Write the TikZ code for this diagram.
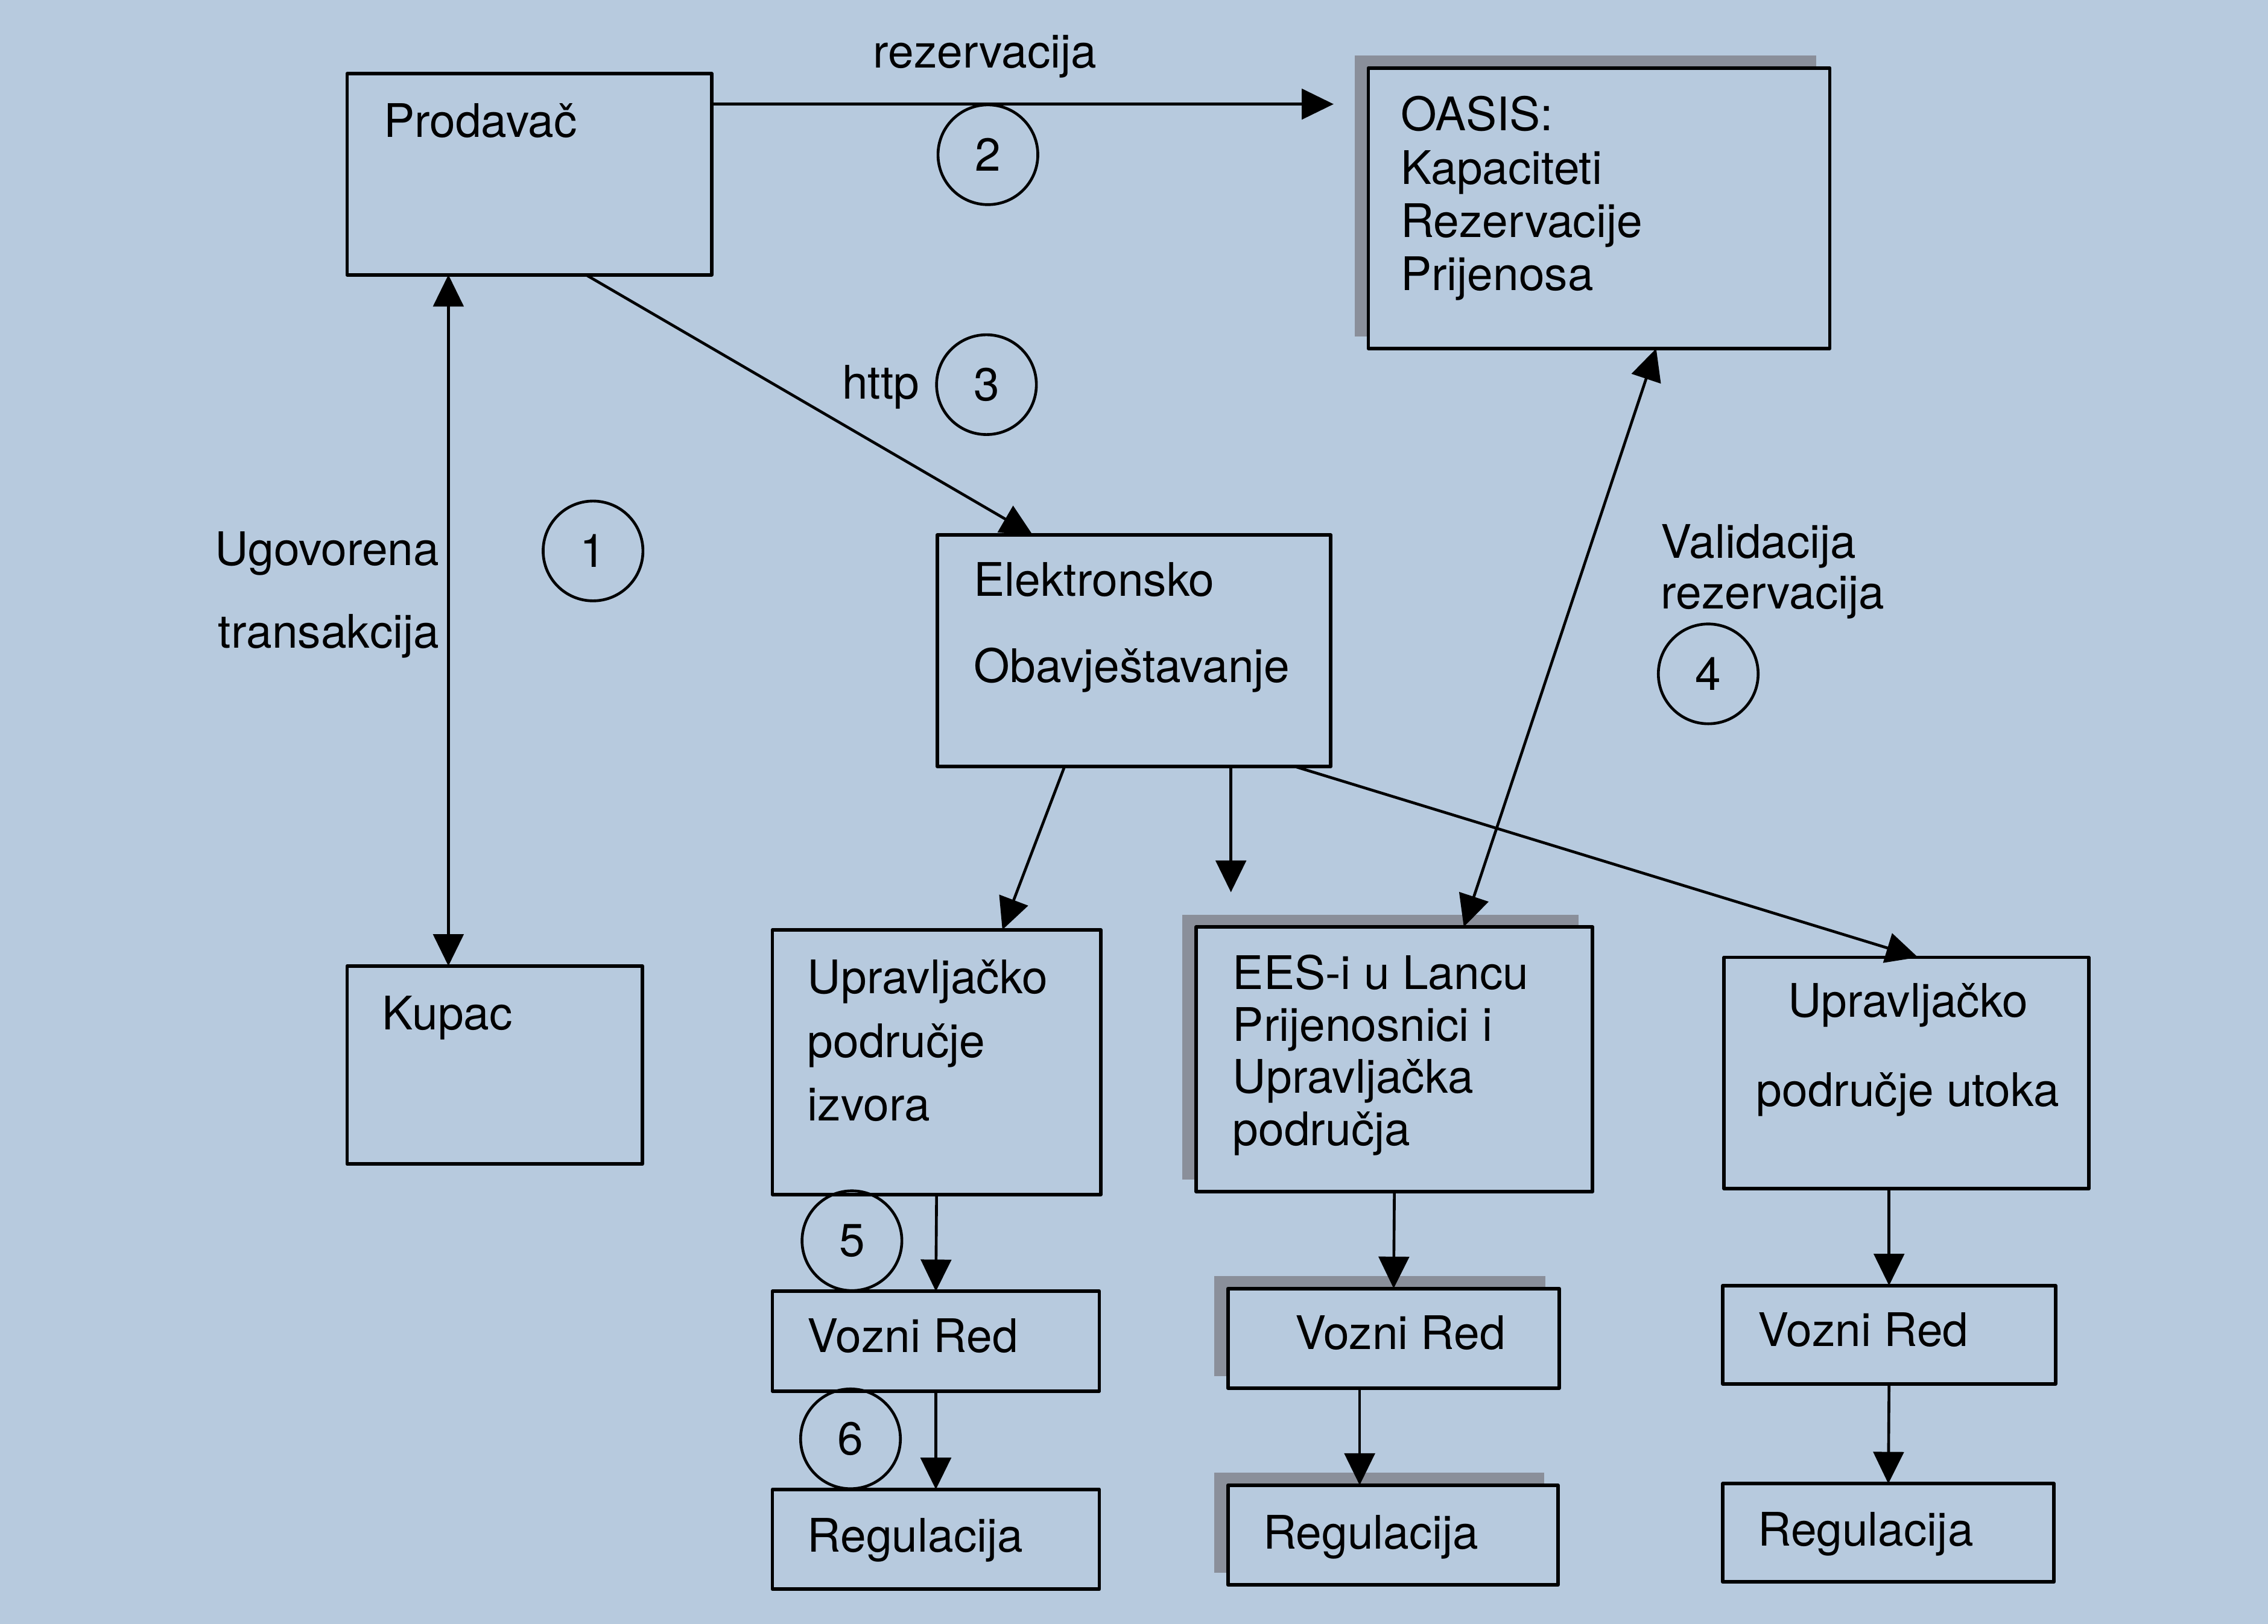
\documentclass[tikz,border=0pt]{standalone}
\usepackage{fontspec}
\setmainfont{TeX Gyre Heros}
\usetikzlibrary{arrows.meta,shadows}
\definecolor{pagebg}{RGB}{183,202,222}
\definecolor{shadowgray}{RGB}{138,143,154}
\begin{document}
\begin{tikzpicture}[x=0.2mm,y=-0.2mm,line join=round,
  every node/.style={font=\fontsize{18.2}{22}\selectfont},
  blok/.style={draw,line width=1.4pt,fill=pagebg,inner sep=0pt,outer sep=0pt},
  sjena/.style={drop shadow={shadow xshift=-1.9mm,shadow yshift=1.7mm,fill=shadowgray,opacity=1}},
  txt/.style={anchor=base west,inner sep=0pt},
  broj/.style={draw,circle,line width=1.1pt,minimum size=13.8mm,inner sep=0pt},
  veza/.style={line width=1.1pt,-{Triangle[length=4.4mm,width=4.2mm]}},
  dvoveza/.style={line width=1.1pt,{Triangle[length=4.4mm,width=4.2mm]}-{Triangle[length=4.4mm,width=4.2mm]}}]
\fill[pagebg] (0,0) rectangle (1568,1123);
\useasboundingbox (0,0) rectangle (1568,1123);
% boxes
\node[blok,minimum width=50.4mm,minimum height=27.8mm] (prod) at (366,120.5) {};
\node[blok,sjena,minimum width=63.8mm,minimum height=38.8mm] (oasis) at (1105.5,144) {};
\node[blok,minimum width=54.4mm,minimum height=32mm] (elek) at (784,450) {};
\node[blok,minimum width=40.8mm,minimum height=27.4mm] (kupac) at (342,736.5) {};
\node[blok,minimum width=45.4mm,minimum height=36.6mm] (izvor) at (647.5,734.5) {};
\node[blok,sjena,minimum width=54.8mm,minimum height=36.6mm] (ees) at (964,732.5) {};
\node[blok,minimum width=50.4mm,minimum height=32mm] (utok) at (1318,742) {};
\node[blok,minimum width=45.2mm,minimum height=13.8mm] (red1) at (647,927.5) {};
\node[blok,minimum width=45.2mm,minimum height=13.8mm] (reg1) at (647,1064.5) {};
\node[blok,sjena,minimum width=45.8mm,minimum height=13.8mm] (red2) at (963.5,925.5) {};
\node[blok,sjena,minimum width=45.6mm,minimum height=13.8mm] (reg2) at (963,1061.5) {};
\node[blok,minimum width=46mm,minimum height=13.6mm] (red3) at (1306,923) {};
\node[blok,minimum width=45.8mm,minimum height=13.6mm] (reg3) at (1305.5,1060) {};
% texts (multi-line ones sit on their last baseline)
\node[txt] (t-prod) at (265,95) {Prodavač};
\node[txt,anchor=base] (t-rez) at (681,47) {rezervacija};
\node[txt,align=left,font=\fontsize{18.2}{21}\selectfont] (t-oasis) at (968,201) {OASIS:\\Kapaciteti\\Rezervacije\\Prijenosa};
\node[txt,anchor=base east] (t-http) at (636,276) {http};
\node[txt,anchor=base east,align=right,font=\fontsize{18.2}{32.4}\selectfont] (t-ugov) at (304,448) {Ugovorena\\transakcija};
\node[txt,align=left,font=\fontsize{18.2}{34}\selectfont] (t-elek) at (673,472) {Elektronsko\\Obavještavanje};
\node[txt,align=left,font=\fontsize{18.2}{20}\selectfont] (t-valid) at (1148,421) {Validacija\\rezervacija};
\node[txt] (t-kupac) at (264,712) {Kupac};
\node[txt,align=left,font=\fontsize{18.2}{25}\selectfont] (t-izvor) at (558,775) {Upravljačko\\područje\\izvora};
\node[txt,align=left,font=\fontsize{18.2}{20.5}\selectfont] (t-ees) at (852,792) {EES-i u Lancu\\Prijenosnici i\\Upravljačka\\područja};
\node[txt,anchor=base,align=center,font=\fontsize{18.2}{35}\selectfont] (t-utok) at (1319,765) {Upravljačko\\područje utoka};
\node[txt] (t-red1) at (558,935) {Vozni Red};
\node[txt] (t-reg1) at (558,1073) {Regulacija};
\node[txt] (t-red2) at (895,933) {Vozni Red};
\node[txt] (t-reg2) at (873,1071) {Regulacija};
\node[txt] (t-red3) at (1215,931) {Vozni Red};
\node[txt] (t-reg3) at (1215,1069) {Regulacija};
% steps
\node[broj] (n1) at (410,381) {1};
\node[broj] (n2) at (683,107) {2};
\node[broj] (n3) at (682,266) {3};
\node[broj] (n4) at (1181,466) {4};
\node[broj] (n5) at (589,858) {5};
\node[broj] (n6) at (588,995) {6};
% arrows
\draw[veza,shorten >=4.8mm] ([yshift=9.7mm]prod.east) -- ([yshift=9.7mm]prod.east -| oasis.west);
\draw[veza] ([xshift=7.8mm]prod.south) -- ([xshift=-14mm]elek.north);
\draw[dvoveza] ([xshift=-6.4mm]kupac.north) -- ([xshift=-6.4mm]kupac.north |- prod.south);
\draw[veza] ([xshift=-9.6mm]elek.south) -- ([xshift=9.1mm]izvor.north);
\draw[veza,shorten >=4.8mm] ([xshift=13.4mm]elek.south) -- ([xshift=13.4mm]elek.south |- ees.north);
\draw[veza] ([xshift=22.2mm]elek.south) -- ([xshift=1.6mm]utok.north);
\draw[dvoveza] ([xshift=7.9mm]oasis.south) -- ([xshift=9.6mm]ees.north);
\draw[veza] (izvor.south) -- (red1.north);
\draw[veza] (red1.south) -- (reg1.north);
\draw[veza] (ees.south) -- (red2.north);
\draw[veza] ([xshift=-4.7mm]red2.south) -- ([xshift=-4.7mm]red2.south |- reg2.north);
\draw[veza] (utok.south -| red3.north) -- (red3.north);
\draw[veza] (red3.south) -- (reg3.north);
\end{tikzpicture}
\end{document}
